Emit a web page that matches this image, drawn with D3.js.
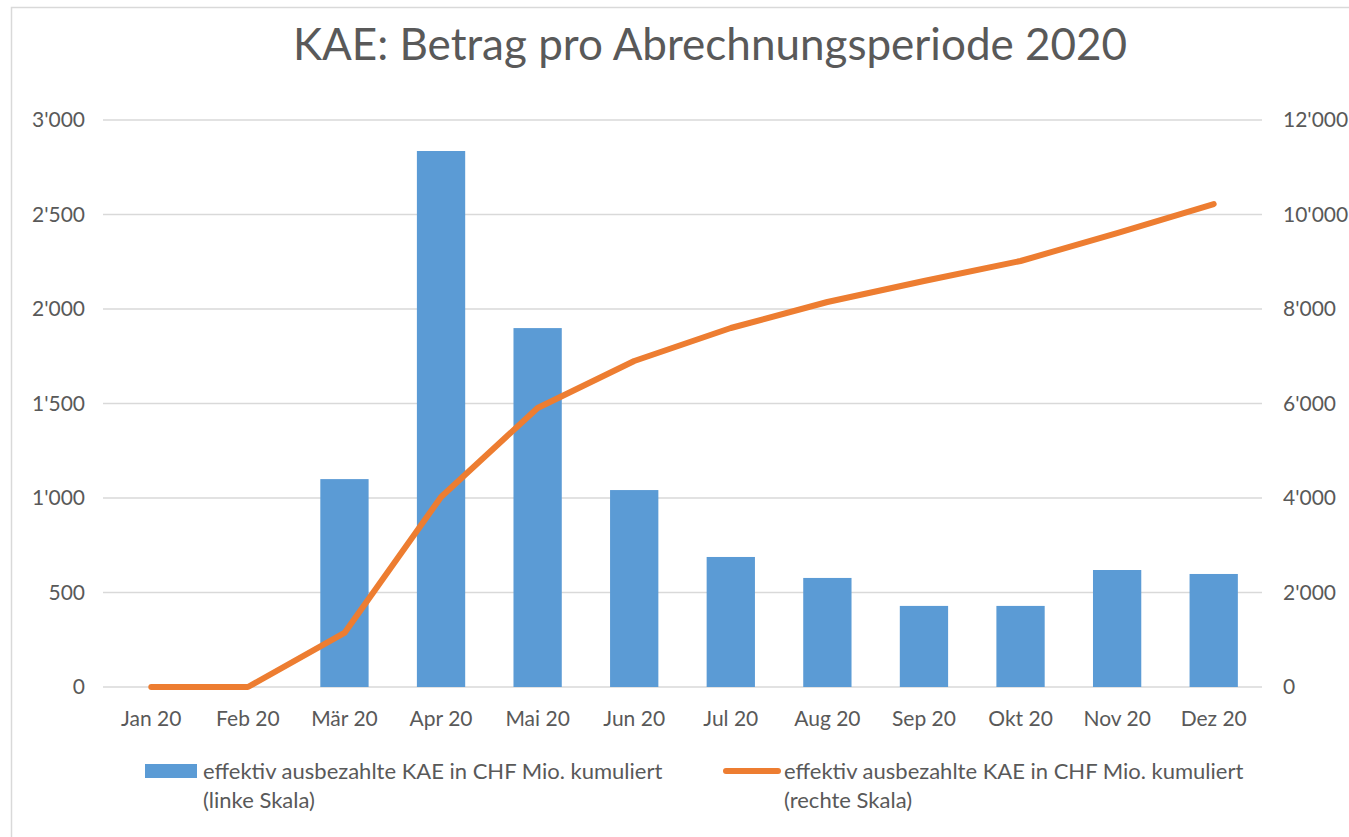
<!DOCTYPE html>
<html><head><meta charset="utf-8">
<script src="https://cdn.jsdelivr.net/npm/d3@7"></script>
<style>body{margin:0;background:#fff}svg{display:block}text{font-family:Lato,sans-serif;fill:#595959}</style>
</head><body><svg id="c" width="1349" height="837"></svg>
<script>
const months = ["Jan 20","Feb 20","Mär 20","Apr 20","Mai 20","Jun 20","Jul 20","Aug 20","Sep 20","Okt 20","Nov 20","Dez 20"];
const barValues = [0,0,1100,2836,1899,1042,688,577,429,429,619,598];
const lineValues = [0,0,1143,4021,5905,6899,7598,8148,8593,9016,9608,10222];
const leftTicks = [0,500,1000,1500,2000,2500,3000];
const rightTicks = [0,2000,4000,6000,8000,10000,12000];
const titleText = "KAE: Betrag pro Abrechnungsperiode 2020";
const legendBar = ["effektiv ausbezahlte KAE in CHF Mio. kumuliert","(linke Skala)"];
const legendLine = ["effektiv ausbezahlte KAE in CHF Mio. kumuliert","(rechte Skala)"];

const svg = d3.select("#c");
const fmt = v => d3.format(",")(v).replace(/,/g,"'");
const L=103, R=1262, T=120, B=687;
const x = d3.scaleBand().domain(months).range([L,R]).paddingInner(0.5).paddingOuter(0.25);
const yL = d3.scaleLinear().domain([0,3000]).range([B,T]);
const yR = d3.scaleLinear().domain([0,12000]).range([B,T]);

svg.append("path").attr("d","M11.5,837 V7.5 H1349").attr("fill","none").attr("stroke","#d9d9d9").attr("stroke-width",1.5);

svg.append("text").attr("x",710).attr("y",60).attr("text-anchor","middle").style("font-size","44px").text(titleText);

svg.append("g").selectAll("line").data(leftTicks).join("line")
  .attr("x1",L).attr("x2",R).attr("y1",d=>yL(d)).attr("y2",d=>yL(d))
  .attr("stroke","#d9d9d9").attr("stroke-width",1.5);

function styleAxis(g){ g.select(".domain").remove(); g.selectAll("text").style("font-size","21px").style("font-family","Lato").attr("fill","#595959"); }
styleAxis(svg.append("g").attr("transform",`translate(${L},0)`).call(d3.axisLeft(yL).tickValues(leftTicks).tickFormat(fmt).tickSize(0).tickPadding(18)));
styleAxis(svg.append("g").attr("transform",`translate(${R},0)`).call(d3.axisRight(yR).tickValues(rightTicks).tickFormat(fmt).tickSize(0).tickPadding(21)));
styleAxis(svg.append("g").attr("transform",`translate(0,${B})`).call(d3.axisBottom(x).tickSize(0).tickPadding(24)));

svg.append("g").selectAll("rect").data(barValues).join("rect")
  .attr("x",(d,i)=>x(months[i])).attr("width",x.bandwidth())
  .attr("y",d=>yL(d)).attr("height",d=>B-yL(d)).attr("fill","#5b9bd5");

const line = d3.line().x((d,i)=>x(months[i])+x.bandwidth()/2).y(d=>yR(d));
svg.append("path").datum(lineValues).attr("d",line).attr("fill","none").attr("stroke","#ed7d31").attr("stroke-width",6).attr("stroke-linejoin","round").attr("stroke-linecap","round");

svg.append("rect").attr("x",145).attr("y",764).attr("width",52).attr("height",14).attr("fill","#5b9bd5");
svg.append("text").attr("x",203).attr("y",779).style("font-size","22px").selectAll("tspan").data(legendBar).join("tspan").attr("x",203).attr("dy",(d,i)=>i?29:0).text(d=>d);
svg.append("line").attr("x1",726).attr("x2",778).attr("y1",771).attr("y2",771).attr("stroke","#ed7d31").attr("stroke-width",6).attr("stroke-linecap","round");
svg.append("text").attr("x",784).attr("y",779).style("font-size","22px").selectAll("tspan").data(legendLine).join("tspan").attr("x",784).attr("dy",(d,i)=>i?29:0).text(d=>d);
</script></body></html>
